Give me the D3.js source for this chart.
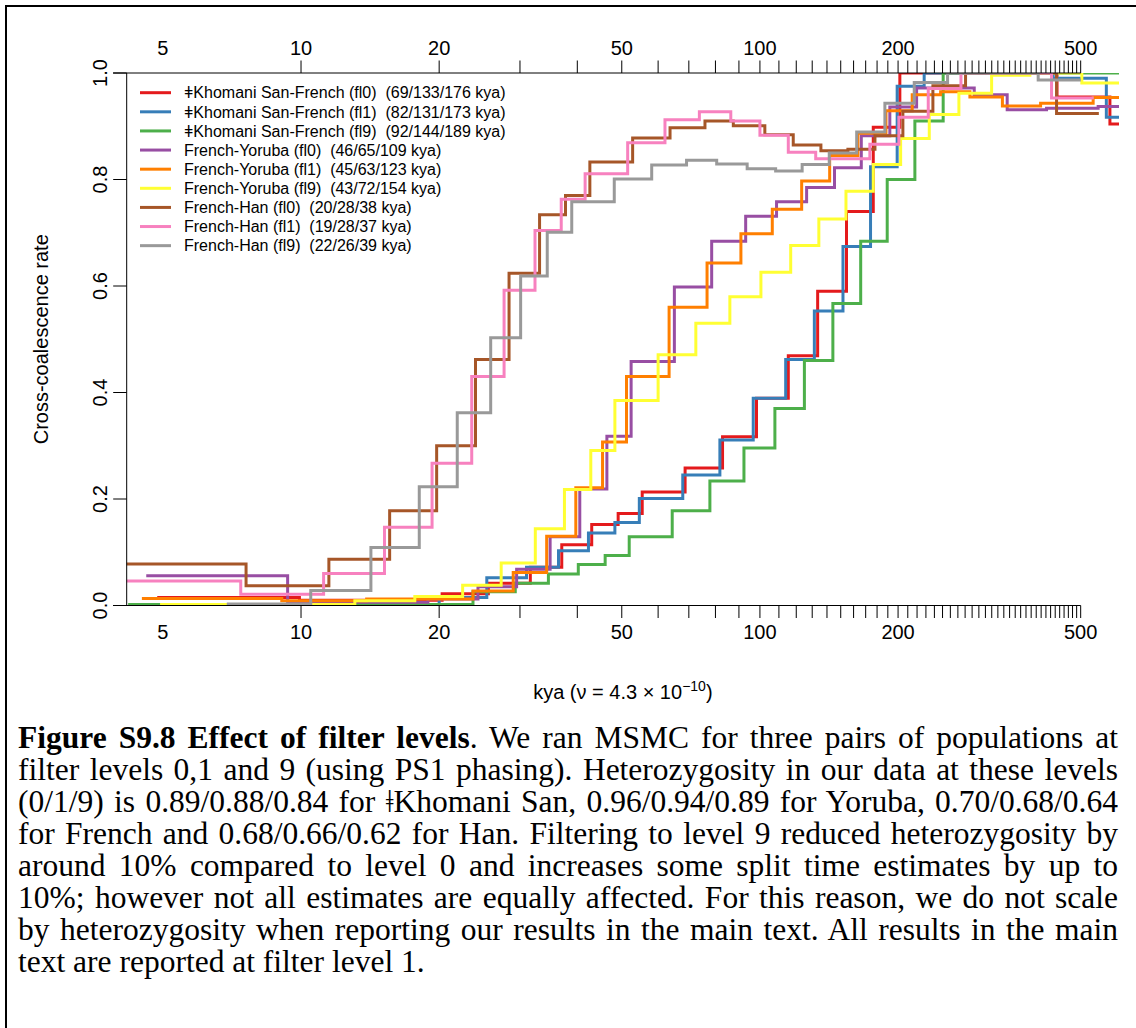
<!DOCTYPE html>
<html>
<head>
<meta charset="utf-8">
<script src="https://cdn.jsdelivr.net/npm/d3@7"></script>
<style>
  body { margin: 0; background: #fff; }
  #wrap { position: relative; width: 1136px; height: 1028px; overflow: hidden; background: #fff; }
  #wrap svg { position: absolute; left: 0; top: 0; }
  #caption {
    position: absolute; left: 18px; top: 722px; width: 1100px;
    font-family: "Liberation Serif", "Times New Roman", serif;
    font-size: 31.5px; line-height: 32px; color: #000;
  }
  #caption div { white-space: nowrap; }
</style>
</head>
<body>
<div id="wrap"><div id="chart"></div><div id="caption"></div></div>
<script>
// Series: time boundaries (kya) and cross-coalescence rate per segment
const sanFr0Kya  = [4.86, 9.92, 20.3, 25.6, 31.6, 37.0, 43.0, 49.1, 55.4, 68.7, 82.9, 98.3, 115.3, 133.6, 154.4, 176.6, 201.8, 444, 579, 606];
const sanFr0Rate = [0.015, 0.010, 0.022, 0.042, 0.072, 0.114, 0.152, 0.173, 0.213, 0.258, 0.317, 0.389, 0.469, 0.590, 0.740, 0.898, 1.0, 0.955, 0.904];

const sanFr1Kya  = [5.05, 20.0, 25.4, 31.0, 36.4, 42.3, 48.3, 54.6, 67.9, 81.8, 96.7, 113.8, 131.4, 151.7, 174.2, 199.1, 228.0, 435.5, 568.7, 606];
const sanFr1Rate = [0.002, 0.015, 0.052, 0.072, 0.103, 0.136, 0.156, 0.201, 0.245, 0.311, 0.389, 0.462, 0.553, 0.674, 0.824, 0.975, 1.0, 0.990, 0.917];

const sanFr9Kya  = [4.2, 23.7, 29.3, 34.6, 40.2, 46.0, 51.9, 64.4, 77.8, 92.3, 107.8, 125.0, 144.2, 165.8, 189.4, 217.6, 250.8, 606];
const sanFr9Rate = [0.002, 0.026, 0.042, 0.059, 0.077, 0.094, 0.129, 0.178, 0.234, 0.296, 0.370, 0.460, 0.567, 0.684, 0.800, 0.910, 1.0];

const yorFr0Kya  = [4.60, 9.35, 12.5, 18.9, 24.3, 29.5, 34.9, 40.5, 46.4, 52.4, 65.1, 78.5, 93.1, 108.7, 126.4, 145.4, 166.3, 191.9, 219.5, 293.1, 345.8, 421.3, 545.8, 606];
const yorFr0Rate = [0.056, 0.005, 0.006, 0.012, 0.035, 0.068, 0.129, 0.219, 0.318, 0.458, 0.598, 0.684, 0.731, 0.758, 0.785, 0.822, 0.882, 0.936, 0.972, 0.959, 0.931, 0.934, 0.937];

const yorFr1Kya  = [4.50, 9.08, 13.9, 23.7, 29.0, 34.3, 39.7, 45.4, 51.2, 63.4, 76.7, 90.9, 106.4, 123.3, 141.9, 163.5, 188.2, 214.7, 247.6, 286.8, 337.6, 408.9, 532.3, 606];
const yorFr1Rate = [0.013, 0.009, 0.012, 0.027, 0.062, 0.130, 0.221, 0.307, 0.430, 0.560, 0.643, 0.698, 0.744, 0.797, 0.845, 0.887, 0.929, 0.959, 0.965, 0.955, 0.938, 0.943, 0.954];

const yorFr9Kya  = [4.93, 13.1, 17.7, 22.5, 27.3, 32.4, 37.5, 42.8, 48.3, 60.0, 72.5, 86.0, 100.5, 116.7, 134.4, 154.0, 176.6, 202.6, 233.9, 271.4, 319.8, 387.5, 502.9, 606];
const yorFr9Rate = [0.002, 0.009, 0.017, 0.038, 0.080, 0.144, 0.218, 0.291, 0.385, 0.471, 0.530, 0.580, 0.626, 0.676, 0.726, 0.778, 0.828, 0.877, 0.922, 0.962, 0.996, 1.0, 0.981];

const hanFr0Kya  = [3.9, 7.59, 11.5, 15.6, 19.75, 24.0, 28.4, 33.1, 37.7, 42.6, 52.8, 63.7, 75.9, 87.5, 102.5, 118.2, 135.8, 155.5, 178.1, 204.9, 238.2, 280.6, 443.0, 547.7];
const hanFr0Rate = [0.078, 0.037, 0.087, 0.178, 0.300, 0.462, 0.624, 0.734, 0.770, 0.833, 0.878, 0.897, 0.910, 0.901, 0.884, 0.865, 0.854, 0.857, 0.882, 0.928, 0.976, 1.0, 0.924];

const hanFr1Kya  = [3.9, 7.39, 11.2, 15.2, 19.3, 23.55, 27.7, 32.35, 36.9, 41.6, 51.5, 62.1, 73.8, 86.4, 100, 115.3, 132.3, 173.6, 200.8, 232.7, 274.2, 432, 534];
const hanFr1Rate = [0.046, 0.021, 0.060, 0.147, 0.267, 0.430, 0.592, 0.704, 0.763, 0.811, 0.869, 0.912, 0.927, 0.910, 0.883, 0.851, 0.839, 0.866, 0.917, 0.971, 1.0, 0.953];

const hanFr9Kya  = [6.89, 10.5, 14.2, 18.1, 21.9, 25.9, 30.1, 34.4, 38.9, 48.15, 58.1, 69.2, 80.5, 93.8, 108.2, 123.6, 141.6, 162.5, 187.2, 216.9, 256.4, 404, 500.4];
const hanFr9Rate = [0.003, 0.028, 0.109, 0.223, 0.362, 0.503, 0.619, 0.701, 0.758, 0.801, 0.827, 0.836, 0.829, 0.820, 0.816, 0.828, 0.850, 0.889, 0.943, 0.982, 1.0, 0.987];

const legendLabels = [
  "ǂKhomani San-French (fl0)  (69/133/176 kya)",
  "ǂKhomani San-French (fl1)  (82/131/173 kya)",
  "ǂKhomani San-French (fl9)  (92/144/189 kya)",
  "French-Yoruba (fl0)  (46/65/109 kya)",
  "French-Yoruba (fl1)  (45/63/123 kya)",
  "French-Yoruba (fl9)  (43/72/154 kya)",
  "French-Han (fl0)  (20/28/38 kya)",
  "French-Han (fl1)  (19/28/37 kya)",
  "French-Han (fl9)  (22/26/39 kya)"
];
const seriesColors = ["#E41A1C", "#377EB8", "#4DAF4A", "#984EA3", "#FF7F00", "#FFFF33", "#A65628", "#F781BF", "#999999"];

const xLabelTicks = [5, 10, 20, 50, 100, 200, 500];
const xMinorTicks = d3.range(10, 501, 10);
const yTicks = [0, 0.2, 0.4, 0.6, 0.8, 1.0];
const xDomain = [4.17, 606];

const captionLines = [
  "<b>Figure S9.8 Effect of filter levels</b>. We ran MSMC for three pairs of populations at",
  "filter levels 0,1 and 9 (using PS1 phasing). Heterozygosity in our data at these levels",
  "(0/1/9) is 0.89/0.88/0.84 for ǂKhomani San, 0.96/0.94/0.89 for Yoruba, 0.70/0.68/0.64",
  "for French and 0.68/0.66/0.62 for Han. Filtering to level 9 reduced heterozygosity by",
  "around 10% compared to level 0 and increases some split time estimates by up to",
  "10%; however not all estimates are equally affected. For this reason, we do not scale",
  "by heterozygosity when reporting our results in the main text. All results in the main",
  "text are reported at filter level 1."
];

const series = [
  [sanFr0Kya, sanFr0Rate], [sanFr1Kya, sanFr1Rate], [sanFr9Kya, sanFr9Rate],
  [yorFr0Kya, yorFr0Rate], [yorFr1Kya, yorFr1Rate], [yorFr9Kya, yorFr9Rate],
  [hanFr0Kya, hanFr0Rate], [hanFr1Kya, hanFr1Rate], [hanFr9Kya, hanFr9Rate]
];

// Layout
const W = 1136, H = 1028;
const plotL = 126.7, plotR = 1119, plotT = 73, plotB = 605.5;
const font = '"Liberation Sans", Arial, Helvetica, sans-serif';

const svg = d3.select('#chart').append('svg')
  .attr('width', W).attr('height', H)
  .style('font-family', font);

const x = d3.scaleLog().domain(xDomain).range([plotL, plotR]);
const y = d3.scaleLinear().domain([0, 1]).range([plotB, plotT]);

// outer frame (top and left edges visible)
svg.append('line').attr('x1', 5).attr('x2', W).attr('y1', 6).attr('y2', 6)
  .attr('stroke', '#000').attr('stroke-width', 2);
svg.append('line').attr('x1', 6).attr('x2', 6).attr('y1', 5).attr('y2', H)
  .attr('stroke', '#000').attr('stroke-width', 2);

svg.append('clipPath').attr('id', 'plotClip')
  .append('rect').attr('x', plotL).attr('y', plotT)
  .attr('width', plotR - plotL).attr('height', plotB - plotT);

// step curves
const line = d3.line()
  .x(d => x(d[0]))
  .y(d => y(d[1]))
  .curve(d3.curveStepAfter);

const lines = svg.append('g').attr('clip-path', 'url(#plotClip)');
series.forEach((s, i) => {
  const kya = s[0], rate = s[1];
  const pts = rate.map((r, j) => [kya[j], r]);
  pts.push([kya[kya.length - 1], rate[rate.length - 1]]);
  lines.append('path')
    .datum(pts)
    .attr('d', line)
    .attr('fill', 'none')
    .attr('stroke', seriesColors[i])
    .attr('stroke-width', 3);
});

// axes
const ax = svg.append('g').attr('stroke', '#000').attr('stroke-width', 1);
ax.append('line').attr('x1', 113).attr('x2', x(500)).attr('y1', plotB).attr('y2', plotB);
ax.append('line').attr('x1', 113).attr('x2', x(500)).attr('y1', plotT).attr('y2', plotT);
ax.append('line').attr('x1', plotL).attr('x2', plotL).attr('y1', plotT).attr('y2', plotB);

ax.selectAll('.tb').data(xMinorTicks).enter().append('line')
  .attr('x1', d => x(d)).attr('x2', d => x(d))
  .attr('y1', plotB).attr('y2', plotB + 12.5);
ax.selectAll('.tt').data(xMinorTicks).enter().append('line')
  .attr('x1', d => x(d)).attr('x2', d => x(d))
  .attr('y1', plotT).attr('y2', plotT - 12.5);
ax.selectAll('.ty').data(yTicks).enter().append('line')
  .attr('x1', plotL - 13.5).attr('x2', plotL)
  .attr('y1', d => y(d)).attr('y2', d => y(d));

svg.selectAll('.lb').data(xLabelTicks).enter().append('text')
  .attr('x', d => x(d)).attr('y', 639)
  .attr('text-anchor', 'middle').attr('font-size', 20)
  .text(d => d);
svg.selectAll('.lt').data(xLabelTicks).enter().append('text')
  .attr('x', d => x(d)).attr('y', 55)
  .attr('text-anchor', 'middle').attr('font-size', 20)
  .text(d => d);
svg.selectAll('.ly').data(yTicks).enter().append('text')
  .attr('transform', d => `translate(107,${y(d)}) rotate(-90)`)
  .attr('text-anchor', 'middle').attr('font-size', 20)
  .text(d => d3.format('.1f')(d));

// axis titles
svg.append('text')
  .attr('transform', `translate(48,${(plotT + plotB) / 2}) rotate(-90)`)
  .attr('text-anchor', 'middle').attr('font-size', 20)
  .text('Cross-coalescence rate');

const xt = svg.append('text')
  .attr('x', (plotL + plotR) / 2).attr('y', 699)
  .attr('text-anchor', 'middle').attr('font-size', 20);
xt.append('tspan').text('kya (ν = 4.3 × 10');
xt.append('tspan').attr('dy', -8).attr('font-size', 14).text('−10');
xt.append('tspan').attr('dy', 8).text(')');

// legend
const lg = svg.append('g');
legendLabels.forEach((t, i) => {
  const yy = 92.7 + i * 19.12;
  lg.append('line').attr('x1', 140).attr('x2', 171).attr('y1', yy).attr('y2', yy)
    .attr('stroke', seriesColors[i]).attr('stroke-width', 3);
  lg.append('text').attr('x', 184).attr('y', yy + 5.7)
    .attr('font-size', 16).style('white-space', 'pre')
    .text(t);
});

// caption, each line justified to the full width (except the last)
const capWidth = 1100;
d3.select('#caption').selectAll('div').data(captionLines).enter().append('div')
  .append('span').html(d => d)
  .each(function(d, i) {
    if (i === captionLines.length - 1) return;
    const w = this.getBoundingClientRect().width;
    const gaps = (this.textContent.match(/ /g) || []).length;
    d3.select(this).style('word-spacing', ((capWidth - w) / gaps) + 'px');
  });
</script>
</body>
</html>
